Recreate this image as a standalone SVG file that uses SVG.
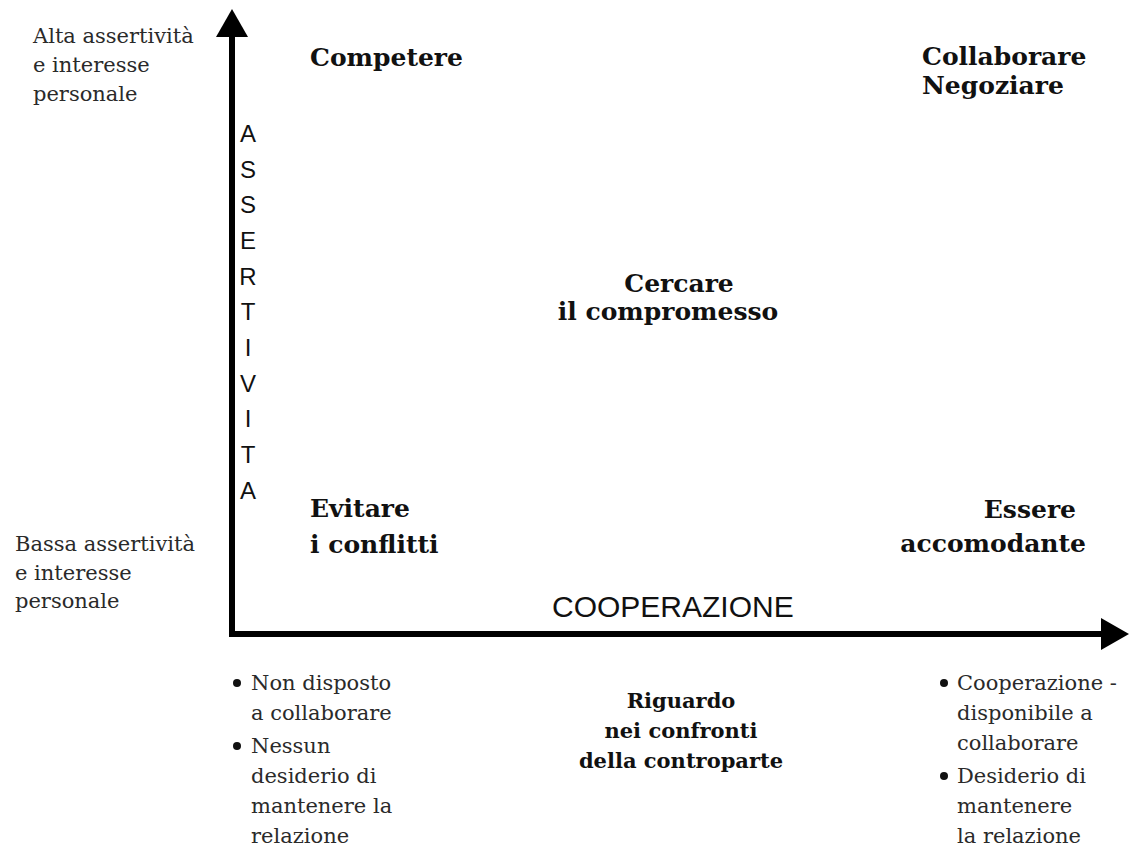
<svg xmlns="http://www.w3.org/2000/svg" width="1131" height="853" viewBox="0 0 1131 853">
<style>
.reg{font-family:"DejaVu Serif","Liberation Serif",serif;font-size:21px;fill:#2a2a2a}
.bold{font-family:"DejaVu Serif","Liberation Serif",serif;font-size:25px;font-weight:bold;fill:#111}
.boldsm{font-family:"DejaVu Serif","Liberation Serif",serif;font-size:21px;font-weight:bold;fill:#111}
.axis{font-family:"Liberation Sans",Arial,sans-serif;fill:#111}
.ax{stroke:#000;stroke-width:6;fill:none;stroke-linecap:square}
.bul{fill:#111}
</style>
<defs>
<marker id="ah" markerUnits="userSpaceOnUse" markerWidth="30" markerHeight="32" refX="0" refY="16" orient="auto">
<path d="M0,0 L28,16 L0,32 z" fill="#000"/>
</marker>
</defs>
<rect width="1131" height="853" fill="#fff"/>
<g id="connectors">
<line class="ax" x1="232" y1="634" x2="232" y2="37" marker-end="url(#ah)"/>
<line class="ax" x1="232" y1="634" x2="1101" y2="634" marker-end="url(#ah)"/>
</g>
<g id="y-axis-label" class="axis" font-size="24" text-anchor="middle">
<text x="248" y="142">A</text>
<text x="248" y="178">S</text>
<text x="248" y="213">S</text>
<text x="248" y="249">E</text>
<text x="248" y="285">R</text>
<text x="248" y="320">T</text>
<text x="248" y="356">I</text>
<text x="248" y="392">V</text>
<text x="248" y="427">I</text>
<text x="248" y="463">T</text>
<text x="248" y="499">A</text>
</g>
<g id="x-axis-label" class="axis" font-size="30">
<text x="552" y="617">COOPERAZIONE</text>
</g>
<g id="high-assertiveness" class="reg">
<text x="33" y="43">Alta assertività</text>
<text x="33" y="72">e interesse</text>
<text x="33" y="101">personale</text>
</g>
<g id="low-assertiveness" class="reg">
<text x="15" y="551">Bassa assertività</text>
<text x="15" y="580">e interesse</text>
<text x="15" y="608">personale</text>
</g>
<g id="competere" class="bold">
<text x="310" y="66">Competere</text>
</g>
<g id="collaborare" class="bold">
<text x="922" y="65">Collaborare</text>
<text x="922" y="94">Negoziare</text>
</g>
<g id="compromesso" class="bold" text-anchor="middle">
<text x="679" y="292">Cercare</text>
<text x="668" y="320">il compromesso</text>
</g>
<g id="evitare" class="bold">
<text x="310" y="517">Evitare</text>
<text x="310" y="553">i conflitti</text>
</g>
<g id="accomodante" class="bold" text-anchor="end">
<text x="1076" y="518">Essere</text>
<text x="1086" y="552">accomodante</text>
</g>
<g id="riguardo" class="boldsm" text-anchor="middle">
<text x="681" y="708">Riguardo</text>
<text x="681" y="738">nei confronti</text>
<text x="681" y="768">della controparte</text>
</g>
<g id="left-notes" class="reg">
<circle class="bul" cx="237" cy="683" r="4"/>
<text x="251" y="690">Non disposto</text>
<text x="251" y="720">a collaborare</text>
<circle class="bul" cx="237" cy="746" r="4"/>
<text x="251" y="753">Nessun</text>
<text x="251" y="783">desiderio di</text>
<text x="251" y="813">mantenere la</text>
<text x="251" y="843">relazione</text>
</g>
<g id="right-notes" class="reg">
<circle class="bul" cx="944" cy="683" r="4"/>
<text x="957" y="690">Cooperazione -</text>
<text x="957" y="720">disponibile a</text>
<text x="957" y="750">collaborare</text>
<circle class="bul" cx="944" cy="776" r="4"/>
<text x="957" y="783">Desiderio di</text>
<text x="957" y="813">mantenere</text>
<text x="957" y="843">la relazione</text>
</g>
</svg>
